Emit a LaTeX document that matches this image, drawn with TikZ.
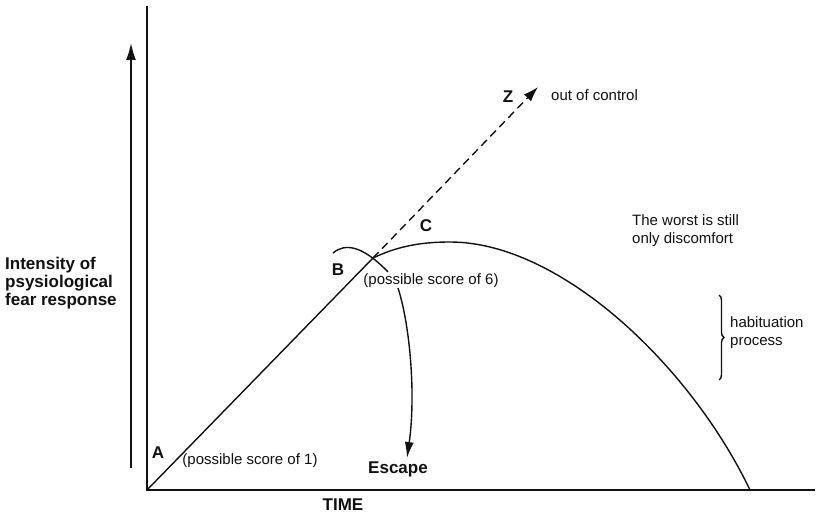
\documentclass[tikz,border=0pt]{standalone}
\usepackage{fontspec}
\setmainfont{Liberation Sans}
\usepackage{tikz}
\usetikzlibrary{arrows.meta,positioning,calc,decorations.pathreplacing}
\definecolor{fgink}{HTML}{111111}

\begin{document}
\begin{tikzpicture}[x=1pt,y=1pt,
    lbl/.style={font=\fontsize{15}{18}\selectfont\color{fgink},inner sep=0pt},
    tag/.style={font=\fontsize{17}{18}\selectfont\bfseries\color{fgink},inner sep=0pt},
    trace/.style={draw=fgink,line width=1.4pt}]
      \useasboundingbox (0,0) rectangle (817,515);
      % axes
      \coordinate (origin) at (147,25);
      \coordinate (ytop) at (147,509);
      \coordinate (xend) at (815,25);
      \draw[fgink,line width=2pt] (ytop) -- (origin) -- (xend);
      \coordinate (upfoot) at (131,47);
      \coordinate (uptip) at (131,472);
      \draw[fgink,line width=1.6pt,-{Latex[length=17pt,width=10pt]}] (upfoot) -- (uptip);
      % rise, peak and fall
      \coordinate (pB) at (373,257);
      \coordinate (pZ) at (538,428);
      \coordinate (pTop) at (450,273);
      \coordinate (pEnd) at (750,25);
      \draw[trace] (origin) -- (pB);
      \draw[trace,dash pattern=on 8pt off 5pt,-{Latex[length=15pt,width=10pt]}] (pB) -- (pZ);
      \draw[trace] (pB) .. controls (400,270) and (425,273) .. (pTop)
                        .. controls (560,273) and (690,150) .. (pEnd);
      \draw[trace] (333,262) .. controls (345,272) and (362,270) .. (388,243);
      % escape route
      \coordinate (escfrom) at (398,227);
      \coordinate (escto) at (407,57);
      \draw[trace,-{Latex[length=16pt,width=9pt]}] (escfrom) .. controls (410,190) and (416,120) .. (escto);
      % habituation brace
      \coordinate (brtop) at (719,220);
      \coordinate (brbot) at (719,135);
      \draw[fgink,line width=1.4pt,decorate,decoration={brace,amplitude=5pt}] (brtop) -- (brbot);
      % labels
      \node[tag,anchor=west,align=left] (ylabel) at (5,232) {Intensity of\\psysiological\\fear response};
      \node[tag] (tA) at (158,62) {A};
      \node[lbl] (sA) at (250,54) {(possible score of 1)};
      \node[tag] (tB) at (338,245) {B};
      \node[lbl] (sB) at (431,234) {(possible score of 6)};
      \node[tag] (tC) at (426,289) {C};
      \node[tag] (tZ) at (508,418) {Z};
      \node[lbl,anchor=west] (sZ) at (551,420) {out of control};
      \node[lbl,anchor=west,align=left] (worst) at (632,284) {The worst is still\\only discomfort};
      \node[lbl,anchor=west,align=left] (habit) at (730,182) {habituation\\process};
      \node[tag] (escape) at (398,46) {Escape};
      \node[tag] (time) at (343,10) {TIME};
    \end{tikzpicture}
\end{document}
